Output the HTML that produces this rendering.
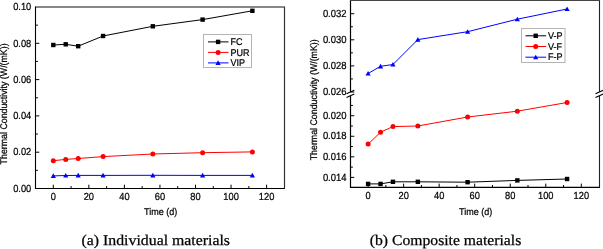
<!DOCTYPE html>
<html><head><meta charset="utf-8"><style>
html,body{margin:0;padding:0;background:#fff;}
body{width:603px;height:249px;overflow:hidden;font-family:"Liberation Sans",sans-serif;}
svg{display:block;}
text{fill:#000;text-rendering:geometricPrecision;}
.s{stroke:#000;stroke-width:0.22px;}
svg{will-change:transform;}
</style></head><body>
<svg width="603" height="249" viewBox="0 0 603 249">
<g>
<line x1="35.5" y1="6.5" x2="35.5" y2="189" stroke="#000" stroke-width="1.1"/>
<line x1="35" y1="188.5" x2="285" y2="188.5" stroke="#000" stroke-width="1.1"/>
<line x1="35.5" y1="7" x2="285" y2="7" stroke="#111" stroke-width="1"/>
<line x1="284.5" y1="7" x2="284.5" y2="188.5" stroke="#333" stroke-width="1.2"/>
<line x1="53.3" y1="188.5" x2="53.3" y2="184.7" stroke="#000" stroke-width="1"/>
<text class="s" transform="translate(53.3 199.5) scale(1 1.1)" font-size="9.3" text-anchor="middle" font-family="Liberation Sans" >0</text>
<line x1="71.08" y1="188.5" x2="71.08" y2="186.1" stroke="#000" stroke-width="1"/>
<line x1="88.85" y1="188.5" x2="88.85" y2="184.7" stroke="#000" stroke-width="1"/>
<text class="s" transform="translate(88.85 199.5) scale(1 1.1)" font-size="9.3" text-anchor="middle" font-family="Liberation Sans" >20</text>
<line x1="106.62" y1="188.5" x2="106.62" y2="186.1" stroke="#000" stroke-width="1"/>
<line x1="124.4" y1="188.5" x2="124.4" y2="184.7" stroke="#000" stroke-width="1"/>
<text class="s" transform="translate(124.4 199.5) scale(1 1.1)" font-size="9.3" text-anchor="middle" font-family="Liberation Sans" >40</text>
<line x1="142.18" y1="188.5" x2="142.18" y2="186.1" stroke="#000" stroke-width="1"/>
<line x1="159.95" y1="188.5" x2="159.95" y2="184.7" stroke="#000" stroke-width="1"/>
<text class="s" transform="translate(159.95 199.5) scale(1 1.1)" font-size="9.3" text-anchor="middle" font-family="Liberation Sans" >60</text>
<line x1="177.73" y1="188.5" x2="177.73" y2="186.1" stroke="#000" stroke-width="1"/>
<line x1="195.5" y1="188.5" x2="195.5" y2="184.7" stroke="#000" stroke-width="1"/>
<text class="s" transform="translate(195.5 199.5) scale(1 1.1)" font-size="9.3" text-anchor="middle" font-family="Liberation Sans" >80</text>
<line x1="213.27" y1="188.5" x2="213.27" y2="186.1" stroke="#000" stroke-width="1"/>
<line x1="231.05" y1="188.5" x2="231.05" y2="184.7" stroke="#000" stroke-width="1"/>
<text class="s" transform="translate(231.05 199.5) scale(1 1.1)" font-size="9.3" text-anchor="middle" font-family="Liberation Sans" >100</text>
<line x1="248.82" y1="188.5" x2="248.82" y2="186.1" stroke="#000" stroke-width="1"/>
<line x1="266.6" y1="188.5" x2="266.6" y2="184.7" stroke="#000" stroke-width="1"/>
<text class="s" transform="translate(266.6 199.5) scale(1 1.1)" font-size="9.3" text-anchor="middle" font-family="Liberation Sans" >120</text>
<text class="s" transform="translate(31.3 191.7) scale(1 1.1)" font-size="9.3" text-anchor="end" font-family="Liberation Sans" >0.00</text>
<line x1="35.5" y1="170.35" x2="37.9" y2="170.35" stroke="#000" stroke-width="1"/>
<line x1="35.5" y1="152.2" x2="39.3" y2="152.2" stroke="#000" stroke-width="1"/>
<text class="s" transform="translate(31.3 155.4) scale(1 1.1)" font-size="9.3" text-anchor="end" font-family="Liberation Sans" >0.02</text>
<line x1="35.5" y1="134.05" x2="37.9" y2="134.05" stroke="#000" stroke-width="1"/>
<line x1="35.5" y1="115.9" x2="39.3" y2="115.9" stroke="#000" stroke-width="1"/>
<text class="s" transform="translate(31.3 119.1) scale(1 1.1)" font-size="9.3" text-anchor="end" font-family="Liberation Sans" >0.04</text>
<line x1="35.5" y1="97.75" x2="37.9" y2="97.75" stroke="#000" stroke-width="1"/>
<line x1="35.5" y1="79.6" x2="39.3" y2="79.6" stroke="#000" stroke-width="1"/>
<text class="s" transform="translate(31.3 82.8) scale(1 1.1)" font-size="9.3" text-anchor="end" font-family="Liberation Sans" >0.06</text>
<line x1="35.5" y1="61.45" x2="37.9" y2="61.45" stroke="#000" stroke-width="1"/>
<line x1="35.5" y1="43.3" x2="39.3" y2="43.3" stroke="#000" stroke-width="1"/>
<text class="s" transform="translate(31.3 46.5) scale(1 1.1)" font-size="9.3" text-anchor="end" font-family="Liberation Sans" >0.08</text>
<line x1="35.5" y1="25.15" x2="37.9" y2="25.15" stroke="#000" stroke-width="1"/>
<text class="s" transform="translate(31.3 10.2) scale(1 1.1)" font-size="9.3" text-anchor="end" font-family="Liberation Sans" >0.10</text>
<text class="s" transform="translate(160.6 214.6) scale(1 1.08)" font-size="9" text-anchor="middle" font-family="Liberation Sans" >Time (d)</text>
<text class="s" transform="translate(7.2 103.9) rotate(-90) scale(0.98 1.08)" font-size="9" text-anchor="middle" font-family="Liberation Sans" >Thermal Conductivity (W/(mK))</text>
<polyline points="53.3,45 65.74,44.3 78.19,46.2 103.07,36 152.84,26.3 202.61,19.6 252.38,10.8" fill="none" stroke="#000" stroke-width="1" stroke-linejoin="round"/>
<polyline points="53.3,160.7 65.74,159.4 78.19,158.5 103.07,156.6 152.84,154 202.61,152.7 252.38,151.9" fill="none" stroke="#f00" stroke-width="1" stroke-linejoin="round"/>
<polyline points="53.3,175.9 65.74,175.5 78.19,175.4 103.07,175.4 152.84,175.3 202.61,175.4 252.38,175.4" fill="none" stroke="#00f" stroke-width="1" stroke-linejoin="round"/>
<rect x="51.1" y="42.8" width="4.4" height="4.4" fill="#000"/>
<rect x="63.54" y="42.1" width="4.4" height="4.4" fill="#000"/>
<rect x="75.98" y="44" width="4.4" height="4.4" fill="#000"/>
<rect x="100.87" y="33.8" width="4.4" height="4.4" fill="#000"/>
<rect x="150.64" y="24.1" width="4.4" height="4.4" fill="#000"/>
<rect x="200.41" y="17.4" width="4.4" height="4.4" fill="#000"/>
<rect x="250.18" y="8.6" width="4.4" height="4.4" fill="#000"/>
<circle cx="53.3" cy="160.7" r="2.5" fill="#f00"/>
<circle cx="65.74" cy="159.4" r="2.5" fill="#f00"/>
<circle cx="78.19" cy="158.5" r="2.5" fill="#f00"/>
<circle cx="103.07" cy="156.6" r="2.5" fill="#f00"/>
<circle cx="152.84" cy="154" r="2.5" fill="#f00"/>
<circle cx="202.61" cy="152.7" r="2.5" fill="#f00"/>
<circle cx="252.38" cy="151.9" r="2.5" fill="#f00"/>
<path d="M53.3 173.33L55.9 178.01L50.7 178.01Z" fill="#00f"/>
<path d="M65.74 172.93L68.34 177.61L63.14 177.61Z" fill="#00f"/>
<path d="M78.19 172.83L80.78 177.51L75.59 177.51Z" fill="#00f"/>
<path d="M103.07 172.83L105.67 177.51L100.47 177.51Z" fill="#00f"/>
<path d="M152.84 172.73L155.44 177.41L150.24 177.41Z" fill="#00f"/>
<path d="M202.61 172.83L205.21 177.51L200.01 177.51Z" fill="#00f"/>
<path d="M252.38 172.83L254.98 177.51L249.78 177.51Z" fill="#00f"/>
<rect x="203.5" y="34.5" width="48" height="33" fill="#fff" stroke="#b4b4b4" stroke-width="1"/>
<line x1="208" y1="41.9" x2="228.5" y2="41.9" stroke="#000" stroke-width="1"/>
<rect x="215.9" y="39.7" width="4.4" height="4.4" fill="#000"/>
<text class="s" transform="translate(230.6 45.1) scale(1 1.08)" font-size="9" text-anchor="start" font-family="Liberation Sans" >FC</text>
<line x1="208" y1="52.4" x2="228.5" y2="52.4" stroke="#f00" stroke-width="1"/>
<circle cx="218.1" cy="52.4" r="2.5" fill="#f00"/>
<text class="s" transform="translate(230.6 55.6) scale(1 1.08)" font-size="9" text-anchor="start" font-family="Liberation Sans" >PUR</text>
<line x1="208" y1="62.9" x2="228.5" y2="62.9" stroke="#00f" stroke-width="1"/>
<path d="M218.1 60.33L220.7 65.01L215.5 65.01Z" fill="#00f"/>
<text class="s" transform="translate(230.6 66.1) scale(1 1.08)" font-size="9" text-anchor="start" font-family="Liberation Sans" >VIP</text>
</g>
<g>
<line x1="350.5" y1="0" x2="350.5" y2="92" stroke="#000" stroke-width="1.2"/>
<line x1="350.5" y1="95.8" x2="350.5" y2="187.9" stroke="#000" stroke-width="1.2"/>
<line x1="599.5" y1="0" x2="599.5" y2="92" stroke="#222" stroke-width="1.1"/>
<line x1="599.5" y1="95.8" x2="599.5" y2="187.9" stroke="#222" stroke-width="1.1"/>
<line x1="350" y1="0.5" x2="600" y2="0.5" stroke="#444" stroke-width="1"/>
<line x1="350" y1="187.4" x2="600" y2="187.4" stroke="#000" stroke-width="1.2"/>
<line x1="346.5" y1="93.7" x2="354.3" y2="90.2" stroke="#000" stroke-width="1.15"/>
<line x1="346.5" y1="97.6" x2="354.3" y2="94.1" stroke="#000" stroke-width="1.15"/>
<line x1="595.5" y1="93.7" x2="603.3" y2="90.2" stroke="#000" stroke-width="1.15"/>
<line x1="595.5" y1="97.6" x2="603.3" y2="94.1" stroke="#000" stroke-width="1.15"/>
<line x1="368.1" y1="187.4" x2="368.1" y2="183.6" stroke="#000" stroke-width="1"/>
<text class="s" transform="translate(368.1 199.4) scale(1 1.1)" font-size="9.3" text-anchor="middle" font-family="Liberation Sans" >0</text>
<line x1="385.87" y1="187.4" x2="385.87" y2="185" stroke="#000" stroke-width="1"/>
<line x1="403.63" y1="187.4" x2="403.63" y2="183.6" stroke="#000" stroke-width="1"/>
<text class="s" transform="translate(403.63 199.4) scale(1 1.1)" font-size="9.3" text-anchor="middle" font-family="Liberation Sans" >20</text>
<line x1="421.4" y1="187.4" x2="421.4" y2="185" stroke="#000" stroke-width="1"/>
<line x1="439.17" y1="187.4" x2="439.17" y2="183.6" stroke="#000" stroke-width="1"/>
<text class="s" transform="translate(439.17 199.4) scale(1 1.1)" font-size="9.3" text-anchor="middle" font-family="Liberation Sans" >40</text>
<line x1="456.94" y1="187.4" x2="456.94" y2="185" stroke="#000" stroke-width="1"/>
<line x1="474.7" y1="187.4" x2="474.7" y2="183.6" stroke="#000" stroke-width="1"/>
<text class="s" transform="translate(474.7 199.4) scale(1 1.1)" font-size="9.3" text-anchor="middle" font-family="Liberation Sans" >60</text>
<line x1="492.47" y1="187.4" x2="492.47" y2="185" stroke="#000" stroke-width="1"/>
<line x1="510.24" y1="187.4" x2="510.24" y2="183.6" stroke="#000" stroke-width="1"/>
<text class="s" transform="translate(510.24 199.4) scale(1 1.1)" font-size="9.3" text-anchor="middle" font-family="Liberation Sans" >80</text>
<line x1="528" y1="187.4" x2="528" y2="185" stroke="#000" stroke-width="1"/>
<line x1="545.77" y1="187.4" x2="545.77" y2="183.6" stroke="#000" stroke-width="1"/>
<text class="s" transform="translate(545.77 199.4) scale(1 1.1)" font-size="9.3" text-anchor="middle" font-family="Liberation Sans" >100</text>
<line x1="563.54" y1="187.4" x2="563.54" y2="185" stroke="#000" stroke-width="1"/>
<line x1="581.3" y1="187.4" x2="581.3" y2="183.6" stroke="#000" stroke-width="1"/>
<text class="s" transform="translate(581.3 199.4) scale(1 1.1)" font-size="9.3" text-anchor="middle" font-family="Liberation Sans" >120</text>
<line x1="350.5" y1="92" x2="354.3" y2="92" stroke="#000" stroke-width="1"/>
<text class="s" transform="translate(346.5 95.2) scale(1 1.1)" font-size="9.45" text-anchor="end" font-family="Liberation Sans" >0.026</text>
<line x1="350.5" y1="78.95" x2="352.9" y2="78.95" stroke="#000" stroke-width="1"/>
<line x1="350.5" y1="65.9" x2="354.3" y2="65.9" stroke="#000" stroke-width="1"/>
<text class="s" transform="translate(346.5 69.1) scale(1 1.1)" font-size="9.45" text-anchor="end" font-family="Liberation Sans" >0.028</text>
<line x1="350.5" y1="52.85" x2="352.9" y2="52.85" stroke="#000" stroke-width="1"/>
<line x1="350.5" y1="39.8" x2="354.3" y2="39.8" stroke="#000" stroke-width="1"/>
<text class="s" transform="translate(346.5 43) scale(1 1.1)" font-size="9.45" text-anchor="end" font-family="Liberation Sans" >0.030</text>
<line x1="350.5" y1="26.75" x2="352.9" y2="26.75" stroke="#000" stroke-width="1"/>
<line x1="350.5" y1="13.7" x2="354.3" y2="13.7" stroke="#000" stroke-width="1"/>
<text class="s" transform="translate(346.5 16.9) scale(1 1.1)" font-size="9.45" text-anchor="end" font-family="Liberation Sans" >0.032</text>
<line x1="350.5" y1="177.4" x2="354.3" y2="177.4" stroke="#000" stroke-width="1"/>
<text class="s" transform="translate(346.5 180.6) scale(1 1.1)" font-size="9.45" text-anchor="end" font-family="Liberation Sans" >0.014</text>
<line x1="350.5" y1="167.12" x2="352.9" y2="167.12" stroke="#000" stroke-width="1"/>
<line x1="350.5" y1="156.84" x2="354.3" y2="156.84" stroke="#000" stroke-width="1"/>
<text class="s" transform="translate(346.5 160.04) scale(1 1.1)" font-size="9.45" text-anchor="end" font-family="Liberation Sans" >0.016</text>
<line x1="350.5" y1="146.56" x2="352.9" y2="146.56" stroke="#000" stroke-width="1"/>
<line x1="350.5" y1="136.28" x2="354.3" y2="136.28" stroke="#000" stroke-width="1"/>
<text class="s" transform="translate(346.5 139.48) scale(1 1.1)" font-size="9.45" text-anchor="end" font-family="Liberation Sans" >0.018</text>
<line x1="350.5" y1="126" x2="352.9" y2="126" stroke="#000" stroke-width="1"/>
<line x1="350.5" y1="115.72" x2="354.3" y2="115.72" stroke="#000" stroke-width="1"/>
<text class="s" transform="translate(346.5 118.92) scale(1 1.1)" font-size="9.45" text-anchor="end" font-family="Liberation Sans" >0.020</text>
<line x1="350.5" y1="105.44" x2="352.9" y2="105.44" stroke="#000" stroke-width="1"/>
<text class="s" transform="translate(475.6 214.6) scale(1 1.08)" font-size="9" text-anchor="middle" font-family="Liberation Sans" >Time (d)</text>
<text class="s" transform="translate(316.5 99.8) rotate(-90) scale(0.98 1.08)" font-size="9" text-anchor="middle" font-family="Liberation Sans" >Thermal Conductivity (W/(mK))</text>
<polyline points="368.1,73.5 380.54,66.3 392.97,64.5 417.85,39.6 467.6,31.7 517.34,19.2 567.09,9" fill="none" stroke="#00f" stroke-width="1" stroke-linejoin="round"/>
<polyline points="368.1,144.1 380.54,132.2 392.97,126.6 417.85,126 467.6,117 517.34,111.2 567.09,102.5" fill="none" stroke="#f00" stroke-width="1" stroke-linejoin="round"/>
<polyline points="368.1,183.9 380.54,183.9 392.97,181.8 417.85,181.8 467.6,182.2 517.34,180.4 567.09,179" fill="none" stroke="#000" stroke-width="1" stroke-linejoin="round"/>
<rect x="365.9" y="181.7" width="4.4" height="4.4" fill="#000"/>
<rect x="378.34" y="181.7" width="4.4" height="4.4" fill="#000"/>
<rect x="390.77" y="179.6" width="4.4" height="4.4" fill="#000"/>
<rect x="415.65" y="179.6" width="4.4" height="4.4" fill="#000"/>
<rect x="465.4" y="180" width="4.4" height="4.4" fill="#000"/>
<rect x="515.14" y="178.2" width="4.4" height="4.4" fill="#000"/>
<rect x="564.89" y="176.8" width="4.4" height="4.4" fill="#000"/>
<circle cx="368.1" cy="144.1" r="2.5" fill="#f00"/>
<circle cx="380.54" cy="132.2" r="2.5" fill="#f00"/>
<circle cx="392.97" cy="126.6" r="2.5" fill="#f00"/>
<circle cx="417.85" cy="126" r="2.5" fill="#f00"/>
<circle cx="467.6" cy="117" r="2.5" fill="#f00"/>
<circle cx="517.34" cy="111.2" r="2.5" fill="#f00"/>
<circle cx="567.09" cy="102.5" r="2.5" fill="#f00"/>
<path d="M368.1 70.93L370.7 75.61L365.5 75.61Z" fill="#00f"/>
<path d="M380.54 63.73L383.14 68.41L377.94 68.41Z" fill="#00f"/>
<path d="M392.97 61.93L395.57 66.61L390.37 66.61Z" fill="#00f"/>
<path d="M417.85 37.03L420.45 41.71L415.25 41.71Z" fill="#00f"/>
<path d="M467.6 29.13L470.2 33.81L465 33.81Z" fill="#00f"/>
<path d="M517.34 16.63L519.94 21.31L514.74 21.31Z" fill="#00f"/>
<path d="M567.09 6.43L569.69 11.11L564.49 11.11Z" fill="#00f"/>
<rect x="521.5" y="28.5" width="43.5" height="34" fill="#fff" stroke="#b4b4b4" stroke-width="1"/>
<line x1="525.5" y1="35.8" x2="546.2" y2="35.8" stroke="#000" stroke-width="1"/>
<rect x="533.5" y="33.6" width="4.4" height="4.4" fill="#000"/>
<text class="s" transform="translate(547.9 39) scale(1 1.08)" font-size="9" text-anchor="start" font-family="Liberation Sans" >V-P</text>
<line x1="525.5" y1="46.5" x2="546.2" y2="46.5" stroke="#f00" stroke-width="1"/>
<circle cx="535.7" cy="46.5" r="2.5" fill="#f00"/>
<text class="s" transform="translate(547.9 49.7) scale(1 1.08)" font-size="9" text-anchor="start" font-family="Liberation Sans" >V-F</text>
<line x1="525.5" y1="57.2" x2="546.2" y2="57.2" stroke="#00f" stroke-width="1"/>
<path d="M535.7 54.63L538.3 59.31L533.1 59.31Z" fill="#00f"/>
<text class="s" transform="translate(547.9 60.4) scale(1 1.08)" font-size="9" text-anchor="start" font-family="Liberation Sans" >F-P</text>
</g>
<text x="81.5" y="244.8" font-size="14.8" text-anchor="start" font-family="Liberation Serif" textLength="148.5" lengthAdjust="spacingAndGlyphs" stroke="#000" stroke-width="0.25">(a) Individual materials</text>
<text x="369.8" y="244.8" font-size="14.8" text-anchor="start" font-family="Liberation Serif" textLength="151.5" lengthAdjust="spacingAndGlyphs" stroke="#000" stroke-width="0.25">(b) Composite materials</text>
</svg>
</body></html>
